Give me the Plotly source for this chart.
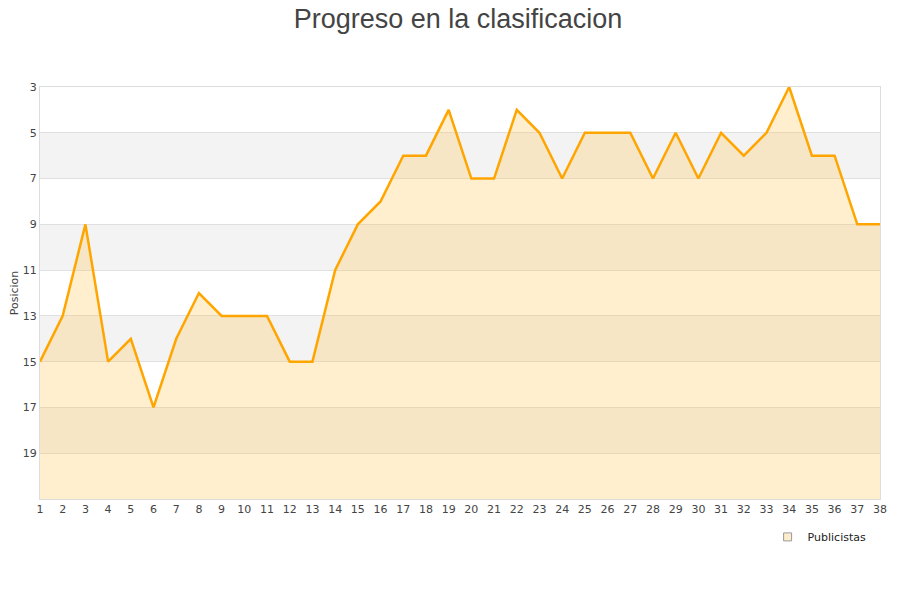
import plotly.graph_objects as go

jornadas = list(range(1, 39))
posiciones = [15, 13, 9, 15, 14, 17, 14, 12, 13, 13, 13, 15, 15, 11, 9, 8, 6, 6, 4, 7,
              7, 4, 5, 7, 5, 5, 5, 7, 5, 7, 5, 6, 5, 3, 6, 6, 9, 9]
y_ticks = [3, 5, 7, 9, 11, 13, 15, 17, 19]
bands = [(5, 7), (9, 11), (13, 15), (17, 19)]

fig = go.Figure()
fig.add_trace(go.Scatter(x=jornadas, y=[21] * len(jornadas), mode="lines",
                         line=dict(width=0), showlegend=False, hoverinfo="skip"))
fig.add_trace(go.Scatter(x=jornadas, y=posiciones, mode="lines", name="Publicistas",
                         line=dict(color="#FFA500", width=2.5),
                         fill="tonexty", fillcolor="rgba(255,190,60,0.25)",
                         showlegend=False))
# legend entry
fig.add_trace(go.Scatter(x=[None], y=[None], mode="markers", name="Publicistas",
                         marker=dict(symbol="square", size=8, color="#FEEDCC",
                                     line=dict(color="#999", width=1))))

for a, b in bands:
    fig.add_shape(type="rect", xref="paper", yref="y", x0=0, x1=1, y0=a, y1=b,
                  fillcolor="#F3F3F3", line=dict(width=0), layer="below")

fig.update_layout(
    width=900, height=600,
    paper_bgcolor="white", plot_bgcolor="white",
    margin=dict(l=32, r=28, t=79, b=109, autoexpand=False),
    title=dict(text="Progreso en la clasificacion", x=0.5, xanchor="center", y=0.998,
               yanchor="top", font=dict(family="Liberation Sans", size=27, color="#444")),
    font=dict(family="DejaVu Sans", size=11, color="#444"),
    showlegend=True,
    legend=dict(x=0.99, y=-0.092, xanchor="right", yanchor="middle",
                font=dict(size=11, color="#222"), bgcolor="rgba(0,0,0,0)"),
)
fig.update_xaxes(range=[1, 38], tickmode="array", tickvals=jornadas, automargin=False,
                 showgrid=False, zeroline=False, showline=True, linecolor="#ddd",
                 mirror=True, ticks="", tickfont=dict(size=11, color="#444"))
fig.update_yaxes(range=[21, 3], tickmode="array", tickvals=y_ticks, automargin=False,
                 showgrid=True, gridcolor="#e0e0e0", zeroline=False, showline=True,
                 linecolor="#ddd", mirror=True, ticks="",
                 title=dict(text="Posicion", font=dict(size=11, color="#444"), standoff=2),
                 tickfont=dict(size=11, color="#444"))

fig.write_html("out.html")
